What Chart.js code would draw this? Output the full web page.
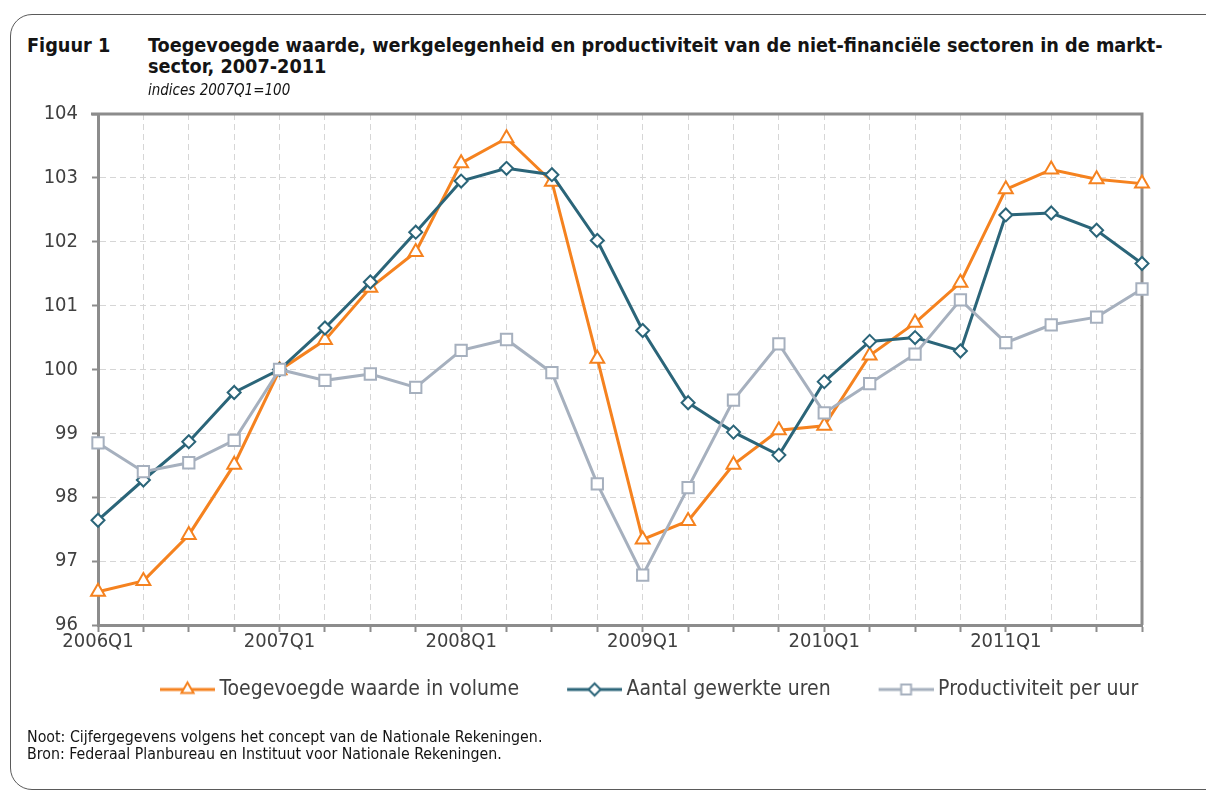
<!DOCTYPE html>
<html>
<head>
<meta charset="utf-8">
<script src="https://cdn.jsdelivr.net/npm/chart.js@4.4.1/dist/chart.umd.min.js"></script>
<style>
html,body{margin:0;padding:0;background:#fff;width:1206px;height:792px;overflow:hidden;}
#frame{position:absolute;left:10px;top:14px;width:1260px;height:776px;border:1px solid #5a5a5a;border-radius:22px;box-sizing:border-box;}
.t{position:absolute;font-family:"DejaVu Sans Condensed","DejaVu Sans",sans-serif;color:#141414;white-space:nowrap;z-index:3;}
#fig{left:27px;top:35px;font-weight:bold;font-size:19.7px;line-height:21px;}
#title{left:148px;top:35px;font-weight:bold;font-size:19.7px;line-height:21px;}
#sub{left:148px;top:81px;font-style:italic;font-size:15px;line-height:18px;}
#notes{left:27px;top:728px;font-size:15.8px;line-height:17px;}
#wrap{position:absolute;left:0;top:88px;width:1206px;height:671px;z-index:1;}
</style>
</head>
<body>
<div id="frame"></div>
<div class="t" id="fig">Figuur 1</div>
<div class="t" id="title">Toegevoegde waarde, werkgelegenheid en productiviteit van de niet-financiële sectoren in de markt-<br>sector, 2007-2011</div>
<div class="t" id="sub">indices 2007Q1=100</div>
<div class="t" id="notes">Noot: Cijfergegevens volgens het concept van de Nationale Rekeningen.<br>Bron: Federaal Planbureau en Instituut voor Nationale Rekeningen.</div>
<div id="wrap"><canvas id="c"></canvas></div>
<script>
const quarters = ['2006Q1','2006Q2','2006Q3','2006Q4','2007Q1','2007Q2','2007Q3','2007Q4',
  '2008Q1','2008Q2','2008Q3','2008Q4','2009Q1','2009Q2','2009Q3','2009Q4',
  '2010Q1','2010Q2','2010Q3','2010Q4','2011Q1','2011Q2','2011Q3','2011Q4'];
const toegevoegdeWaarde = [96.52, 96.69, 97.41, 98.51, 99.99, 100.46, 101.28, 101.84, 103.23, 103.62, 102.94, 100.17,
  97.34, 97.63, 98.51, 99.05, 99.12, 100.22, 100.73, 101.36, 102.82, 103.13, 102.98, 102.91];
const aantalUren = [97.64, 98.27, 98.87, 99.64, 100.0, 100.65, 101.37, 102.15, 102.95, 103.15, 103.05, 102.02,
  100.61, 99.48, 99.02, 98.66, 99.81, 100.44, 100.50, 100.29, 102.42, 102.45, 102.18, 101.66];
const productiviteit = [98.85, 98.40, 98.54, 98.89, 100.0, 99.83, 99.93, 99.72, 100.30, 100.47, 99.95, 98.21,
  96.78, 98.15, 99.52, 100.40, 99.32, 99.78, 100.24, 101.09, 100.42, 100.70, 100.82, 101.26];
const seriesNames = ['Toegevoegde waarde in volume', 'Aantal gewerkte uren', 'Productiviteit per uur'];
const yTicks = [96, 97, 98, 99, 100, 101, 102, 103, 104];

const ORANGE = '#F5821F', BLUE = '#2B6579', GREY = '#A6B0BE';
const FONT = '"DejaVu Sans Condensed", "DejaVu Sans", sans-serif';
const TXT = '#404040';

function symbol(color, style, r) {
  const c = document.createElement('canvas');
  c.width = 67; c.height = 22;
  const g = c.getContext('2d');
  g.strokeStyle = color; g.lineWidth = 3;
  g.beginPath(); g.moveTo(12, 11); g.lineTo(67, 11); g.stroke();
  g.fillStyle = '#fff'; g.lineWidth = 2;
  Chart.helpers.drawPoint(g, {pointStyle: style, radius: r, borderWidth: 2, rotation: 0}, 39.5, 11);
  return c;
}
const symbols = [symbol(ORANGE, 'triangle', 7), symbol(BLUE, 'rectRot', 6), symbol(GREY, 'rect', 7)];

const frameLines = {
  id: 'frameLines',
  beforeDatasetsDraw(chart) {
    const {ctx, chartArea: a} = chart;
    ctx.save();
    ctx.strokeStyle = '#8C8C8C'; ctx.lineWidth = 3;
    ctx.beginPath();
    ctx.moveTo(a.left - 7, a.top); ctx.lineTo(a.right, a.top); ctx.lineTo(a.right, a.bottom);
    ctx.stroke();
    ctx.restore();
  },
  afterLayout(chart) {
    const lg = chart.legend;
    if (!lg) return;
    const h = lg.height;
    lg.left = 112; lg.right = 1206;
    lg.top = 549; lg.bottom = 549 + h;
  }
};

function ds(label, data, color, style, r, order) {
  return {
    label, data, borderColor: color, backgroundColor: color, borderWidth: 3,
    pointStyle: style, pointRadius: r, pointHoverRadius: r,
    pointBackgroundColor: '#fff', pointBorderColor: color, pointBorderWidth: 2,
    tension: 0, clip: false, order
  };
}

new Chart(document.getElementById('c'), {
  type: 'line',
  data: {
    labels: quarters,
    datasets: [
      ds(seriesNames[0], toegevoegdeWaarde, ORANGE, 'triangle', 8, 2),
      ds(seriesNames[1], aantalUren, BLUE, 'rectRot', 6.5, 1),
      ds(seriesNames[2], productiviteit, GREY, 'rect', 8, 0)
    ]
  },
  plugins: [frameLines],
  options: {
    responsive: true, maintainAspectRatio: false, animation: false,
    layout: {padding: {top: 2, left: 0, right: 64, bottom: 21}},
    plugins: {
      title: {display: false},
      tooltip: {enabled: false},
      legend: {
        position: 'bottom', align: 'start',
        labels: {
          usePointStyle: true, pointStyleWidth: 55, padding: 42,
          font: {family: FONT, size: 21}, color: TXT,
          generateLabels(chart) {
            return chart.data.datasets.map((d, i) => ({
              text: d.label, pointStyle: symbols[i], fillStyle: d.borderColor,
              strokeStyle: d.borderColor, lineWidth: 0, hidden: false, datasetIndex: i, fontColor: TXT
            }));
          }
        }
      }
    },
    scales: {
      x: {
        type: 'category', offset: false,
        grid: {color: '#D6D6D6', lineWidth: 1, drawTicks: true, tickLength: 7, tickColor: '#8C8C8C', tickWidth: 2},
        border: {display: true, color: '#8C8C8C', width: 3, dash: [6, 4]},
        ticks: {
          autoSkip: false, maxRotation: 0, minRotation: 0, padding: 0,
          color: TXT, font: {family: FONT, size: 20, lineHeight: 1},
          callback(v, i) { return quarters[i].endsWith('Q1') ? quarters[i] : ''; }
        },
        afterFit(s) { s.height = 40; }
      },
      y: {
        min: yTicks[0], max: yTicks[yTicks.length - 1],
        afterBuildTicks(s) { s.ticks = yTicks.map(v => ({value: v})); },
        grid: {color: '#D6D6D6', lineWidth: 1, drawTicks: true, tickLength: 6, tickColor: '#8C8C8C', tickWidth: 2},
        border: {display: true, color: '#8C8C8C', width: 3, dash: [6, 4]},
        ticks: {padding: 14, color: TXT, font: {family: FONT, size: 20}},
        afterFit(s) { s.width = 98; }
      }
    }
  }
});
</script>
</body>
</html>
